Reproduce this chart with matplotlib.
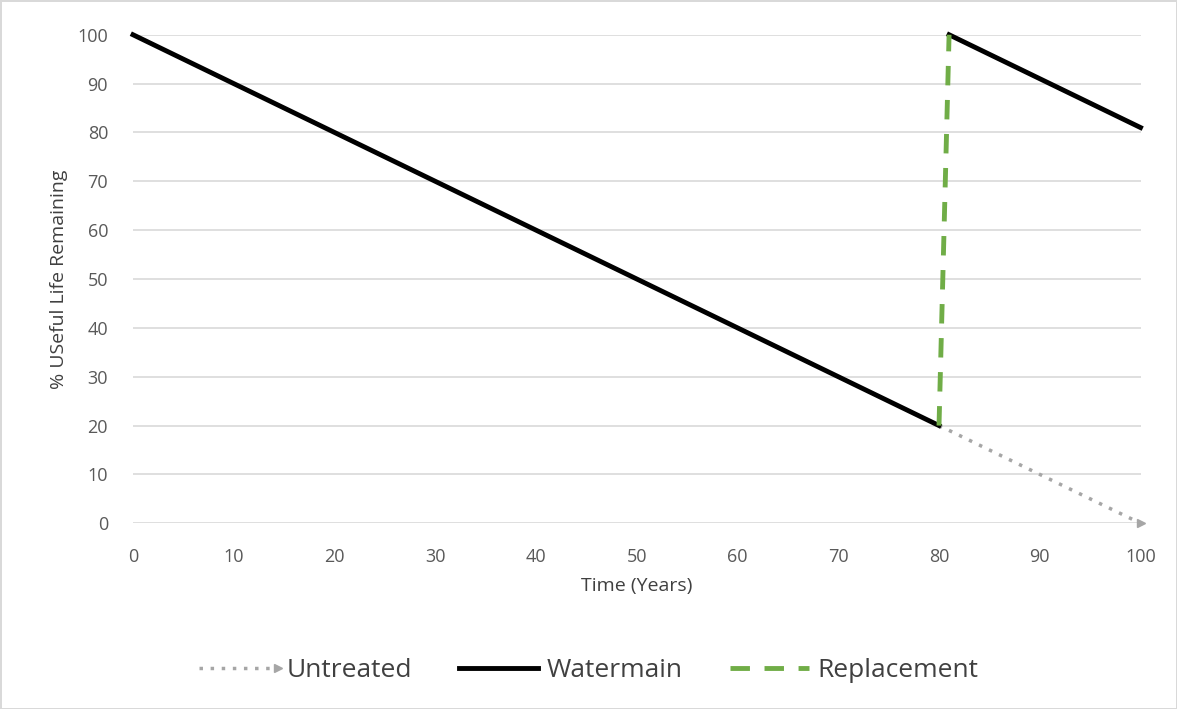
import numpy as np
import matplotlib
matplotlib.use('Agg')
import matplotlib.pyplot as plt
from matplotlib.legend_handler import HandlerLine2D

# life curves (years, % useful life)
main_x = [0, 80]
main_y = [100, 20]
renew_x = [81, 100]
renew_y = [100, 81]
repl_x = [80, 81]
repl_y = [20, 100]
untreated_x = [80, 100]
untreated_y = [20, 0]

xticks = list(range(0, 101, 10))
yticks = list(range(0, 101, 10))


class EndMarkerHandler(HandlerLine2D):
    # put the legend marker at the right end of the sample line
    def create_artists(self, *args, **kwargs):
        arts = super().create_artists(*args, **kwargs)
        for a in arts:
            n = len(a.get_xdata())
            a.set_markevery([n - 1])
        return arts


plt.rcParams['font.family'] = ['Open Sans', 'DejaVu Sans']

fig = plt.figure(figsize=(11.77, 7.09), dpi=100)
fig.patch.set_edgecolor('#d9d9d9')
fig.patch.set_linewidth(2)
ax = fig.add_axes([0.113, 0.262, 0.856, 0.689])

unt, = ax.plot(untreated_x, untreated_y, color='#a6a6a6', lw=2.5, ls=(0, (1, 2.2)),
               marker='>', markevery=[1], ms=6, label='Untreated', zorder=3,
               clip_on=False)
ax.plot(main_x, main_y, color='black', lw=3.5, label='Watermain', zorder=4,
        clip_on=False)
ax.plot(renew_x, renew_y, color='black', lw=3.5, zorder=4, clip_on=False)
ax.plot(repl_x, repl_y, color='#70ad47', lw=3.5, ls=(0, (4, 3)),
        label='Replacement', zorder=5, clip_on=False)

ax.set_xlim(0, 100)
ax.set_ylim(0, 100)
ax.set_xticks(xticks)
ax.set_yticks(yticks)
ax.tick_params(length=0, labelsize=13, labelcolor='#595959', pad=18)
ax.grid(axis='y', color='#d9d9d9', lw=1.2)
ax.set_axisbelow(True)
for s in ax.spines.values():
    s.set_visible(False)

ax.set_xlabel('Time (Years)', fontsize=14, color='#404040', labelpad=8)
ax.set_ylabel('% USeful Life Remaining', fontsize=14, color='#404040', labelpad=7)

h, l = ax.get_legend_handles_labels()
fig.legend(h, l, loc='center', bbox_to_anchor=(0.5, 0.054), ncol=3, frameon=False,
           fontsize=19, labelcolor='#404040', handlelength=3, handletextpad=0.3,
           columnspacing=1.8, handler_map={unt: EndMarkerHandler()})

fig.savefig('out.png', dpi=100)
